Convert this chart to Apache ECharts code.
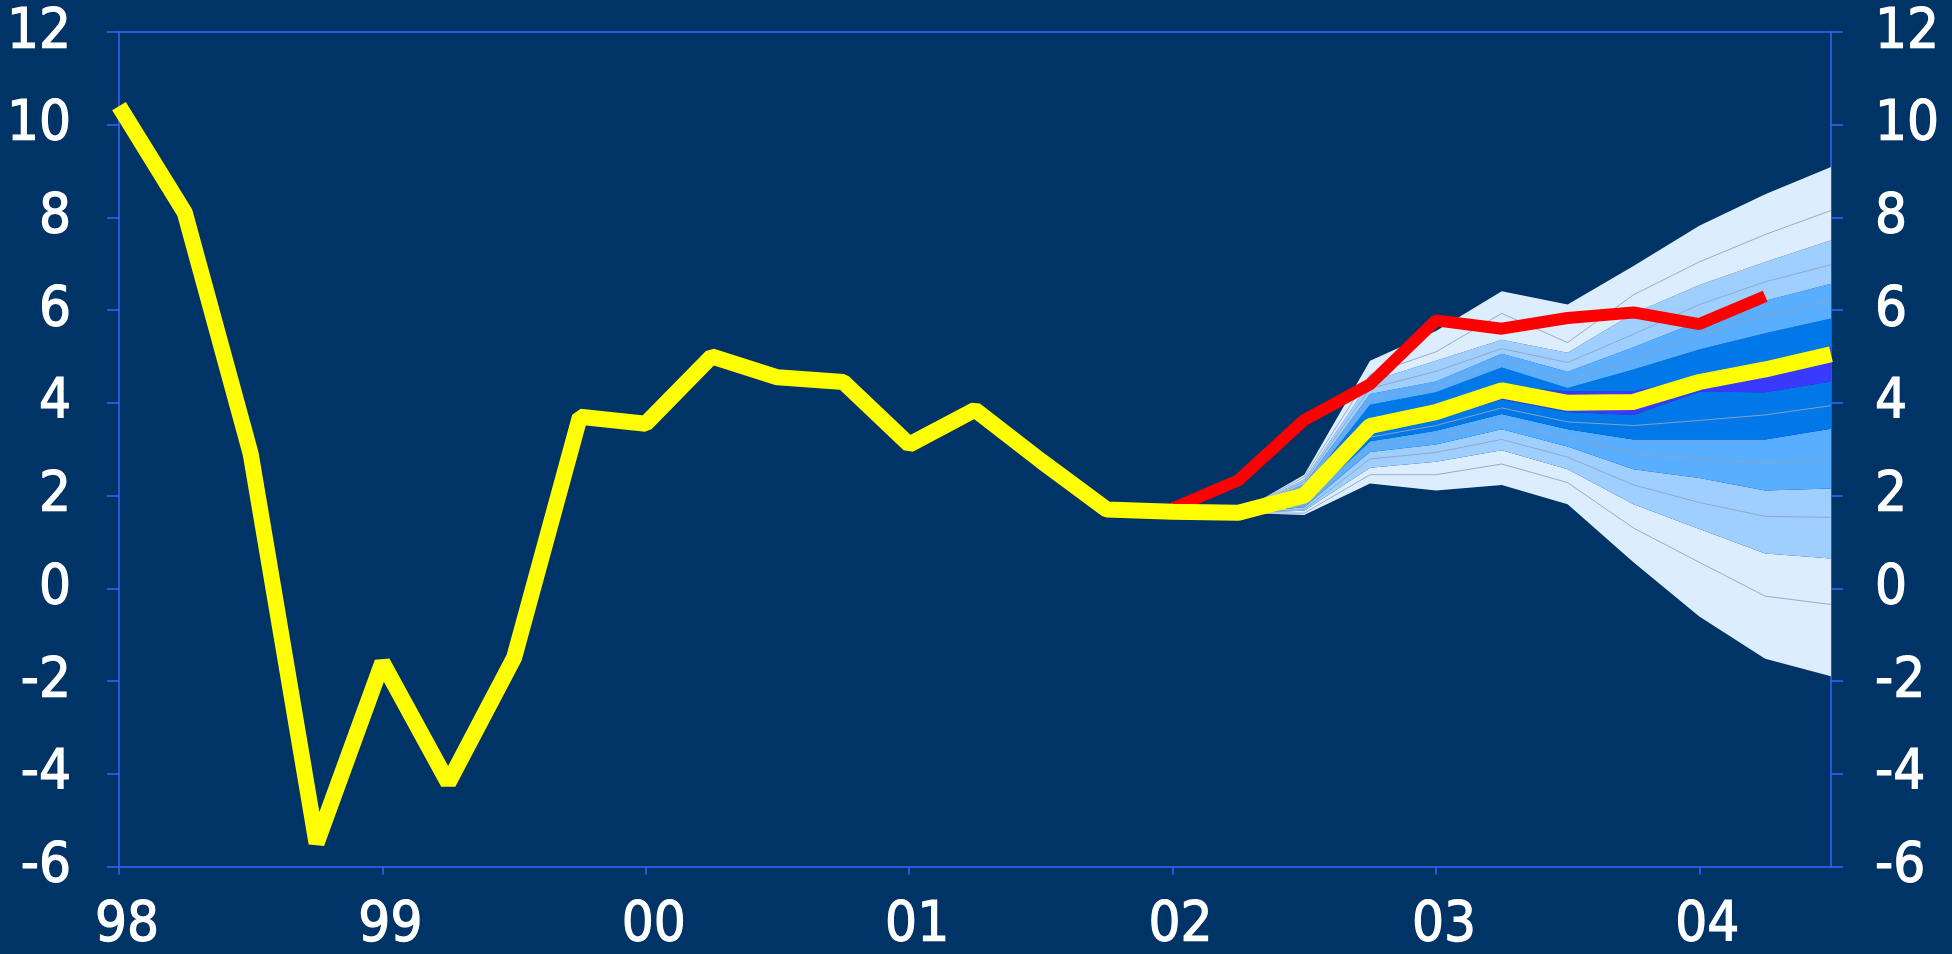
<!DOCTYPE html>
<html>
<head>
<meta charset="utf-8">
<script src="https://cdn.jsdelivr.net/npm/echarts@6/dist/echarts.min.js"></script>
<style>
html,body{margin:0;padding:0;background:#003366;}
#chart{width:1952px;height:954px;}
</style>
</head>
<body>
<div id="chart"></div>
<script>
// ---- Data ----
const categories = ['98Q1','98Q2','98Q3','98Q4','99Q1','99Q2','99Q3','99Q4',
  '00Q1','00Q2','00Q3','00Q4','01Q1','01Q2','01Q3','01Q4',
  '02Q1','02Q2','02Q3','02Q4','03Q1','03Q2','03Q3','03Q4',
  '04Q1','04Q2','04Q3'];
const yearLabels = {'98Q1':'98','99Q1':'99','00Q1':'00','01Q1':'01','02Q1':'02','03Q1':'03','04Q1':'04'};

// yellow: outturn + central projection
const projection = [10.4, 8.1, 2.9, -5.5, -1.6, -4.2, -1.5, 3.7, 3.55, 5.0, 4.55, 4.45, 3.1, 3.85, 2.75, 1.7,
  1.65, 1.63, 2.0, 3.5, 3.8, 4.27, 4.0, 4.02, 4.45, 4.72, 5.05];
// red: revised path
const revised = ['-','-','-','-','-','-','-','-','-','-','-','-','-','-','-','-',
  1.72, 2.33, 3.63, 4.4, 5.78, 5.6, 5.83, 5.95, 5.7, 6.3, '-'];

// fan boundaries, from 02Q2 to 04Q3 (bottom to top)
const fanStart = 17;
const fanD4   = [1.63, 1.58, 2.26, 2.11, 2.23, 1.81, 0.56, -0.61, -1.52, -1.9];
const fanD3l  = [1.63, 1.62, 2.45, 2.45, 2.68, 2.28, 1.30, 0.56, -0.17, -0.35];
const fanD3   = [1.63, 1.67, 2.60, 2.73, 2.98, 2.57, 1.81, 1.28, 0.75, 0.64];
const fanD2l  = [1.63, 1.70, 2.79, 2.93, 3.21, 2.83, 2.23, 1.85, 1.55, 1.53];
const fanD2   = [1.63, 1.75, 2.94, 3.10, 3.43, 3.06, 2.57, 2.38, 2.11, 2.15];
const fanD1l  = [1.63, 1.80, 3.06, 3.25, 3.59, 3.25, 2.91, 2.79, 2.70, 2.79];
const fanD1   = [1.63, 1.85, 3.17, 3.40, 3.76, 3.43, 3.21, 3.21, 3.21, 3.44];
const fanD0l  = [1.63, 1.90, 3.26, 3.51, 3.89, 3.59, 3.51, 3.62, 3.74, 3.94];
const fanCbot = [1.63, 1.95, 3.36, 3.63, 4.08, 3.80, 3.74, 4.24, 4.23, 4.46];
const fanCtop = [1.63, 2.05, 3.60, 3.90, 4.35, 4.25, 4.25, 4.55, 4.85, 5.20];
const fanU1   = [1.63, 2.15, 3.96, 4.23, 4.76, 4.32, 4.72, 5.15, 5.50, 5.82];
const fanU1l  = [1.63, 2.20, 4.08, 4.34, 4.91, 4.49, 4.95, 5.46, 5.89, 6.21];
const fanU2   = [1.63, 2.25, 4.19, 4.46, 5.06, 4.67, 5.20, 5.76, 6.20, 6.57];
const fanU2l  = [1.63, 2.30, 4.31, 4.68, 5.17, 4.87, 5.48, 6.12, 6.61, 6.98];
const fanU3   = [1.63, 2.35, 4.46, 4.91, 5.36, 5.08, 5.93, 6.54, 7.04, 7.51];
const fanU3l  = [1.63, 2.40, 4.61, 5.10, 5.93, 5.30, 6.33, 7.04, 7.63, 8.15];
const fanU4   = [1.63, 2.45, 4.91, 5.55, 6.41, 6.12, 6.95, 7.82, 8.50, 9.09];

// ---- Styles ----
const BG = '#003366';
const AXIS = '#3366FF';
const cLight = '#DCEEFE', c9F = '#9ECFFF', c5A = '#5AAEFF', c07 = '#0078E8', cMid = '#3A3AFF';
const FONT = '"DejaVu Sans Condensed","Liberation Sans Narrow","Open Sans",sans-serif';
const labelStyle = {
  color: '#ffffff', fontSize: 56, fontFamily: FONT,
  textBorderColor: '#ffffff', textBorderWidth: 1.2,
  textShadowColor: '#000000', textShadowOffsetX: 3, textShadowOffsetY: 3, textShadowBlur: 0
};

function pad(arr){ return Array(fanStart).fill('-').concat(arr); }

const bounds = [fanD4, fanD3, fanD2, fanD1, fanCbot, fanCtop, fanU1, fanU2, fanU3, fanU4];
const bandColors = [cLight, c9F, c5A, c07, cMid, c07, c5A, c9F, cLight];
const series = [];
series.push({
  type: 'line', stack: 'fan', stackStrategy: 'all', data: pad(fanD4), symbol: 'none', silent: true,
  lineStyle: {width: 0, opacity: 0}, z: 2
});
for (let i = 1; i < bounds.length; i++) {
  const diff = bounds[i].map((v, j) => +(v - bounds[i-1][j]).toFixed(4));
  series.push({
    type: 'line', stack: 'fan', stackStrategy: 'all', data: pad(diff), symbol: 'none', silent: true,
    lineStyle: {width: 0, opacity: 0},
    areaStyle: {color: bandColors[i-1], opacity: 1}, z: 2
  });
}
[fanD3l, fanD2l, fanD1l, fanD0l, fanU1l, fanU2l, fanU3l].forEach(arr => {
  series.push({
    type: 'line', data: pad(arr), symbol: 'none', silent: true,
    lineStyle: {width: 1, color: '#8FA4C2', opacity: 0.9}, z: 3
  });
});
series.push({
  type: 'line', data: revised, symbol: 'none', silent: true,
  lineStyle: {width: 12, color: '#FF0000', join: 'bevel', cap: 'butt'}, z: 4
});
series.push({
  type: 'line', data: projection, symbol: 'none', silent: true,
  lineStyle: {width: 16, color: '#FFFF00', join: 'bevel', cap: 'butt'}, z: 5
});

const chart = echarts.init(document.getElementById('chart'), null, {renderer: 'canvas'});
chart.setOption({
  backgroundColor: BG,
  animation: false,
  grid: {left: 119, right: 121, top: 32, bottom: 87, containLabel: false},
  xAxis: [{
    type: 'category', data: categories, boundaryGap: false, position: 'bottom',
    axisLine: {onZero: false, lineStyle: {color: AXIS, width: 1.5}},
    axisTick: {interval: 3, length: 8, lineStyle: {color: AXIS, width: 1.5}},
    axisLabel: Object.assign({
      interval: 3, margin: 31, padding: [0, 0, 0, 16],
      formatter: v => yearLabels[v] || ''
    }, labelStyle),
    splitLine: {show: false}
  }, {
    type: 'category', data: categories, boundaryGap: false, position: 'top',
    axisLine: {onZero: false, lineStyle: {color: AXIS, width: 1.5}},
    axisTick: {show: false}, axisLabel: {show: false}, splitLine: {show: false}
  }],
  yAxis: [{
    type: 'value', min: -6, max: 12, interval: 2, position: 'left',
    axisLine: {show: true, onZero: false, lineStyle: {color: AXIS, width: 1.5}},
    axisTick: {show: true, length: 12, lineStyle: {color: AXIS, width: 1.5}},
    axisLabel: Object.assign({margin: 48}, labelStyle),
    splitLine: {show: false}
  }, {
    type: 'value', min: -6, max: 12, interval: 2, position: 'right',
    axisLine: {show: true, onZero: false, lineStyle: {color: AXIS, width: 1.5}},
    axisTick: {show: true, length: 12, lineStyle: {color: AXIS, width: 1.5}},
    axisLabel: Object.assign({margin: 44}, labelStyle),
    splitLine: {show: false}
  }],
  series: series
});
</script>
</body>
</html>
